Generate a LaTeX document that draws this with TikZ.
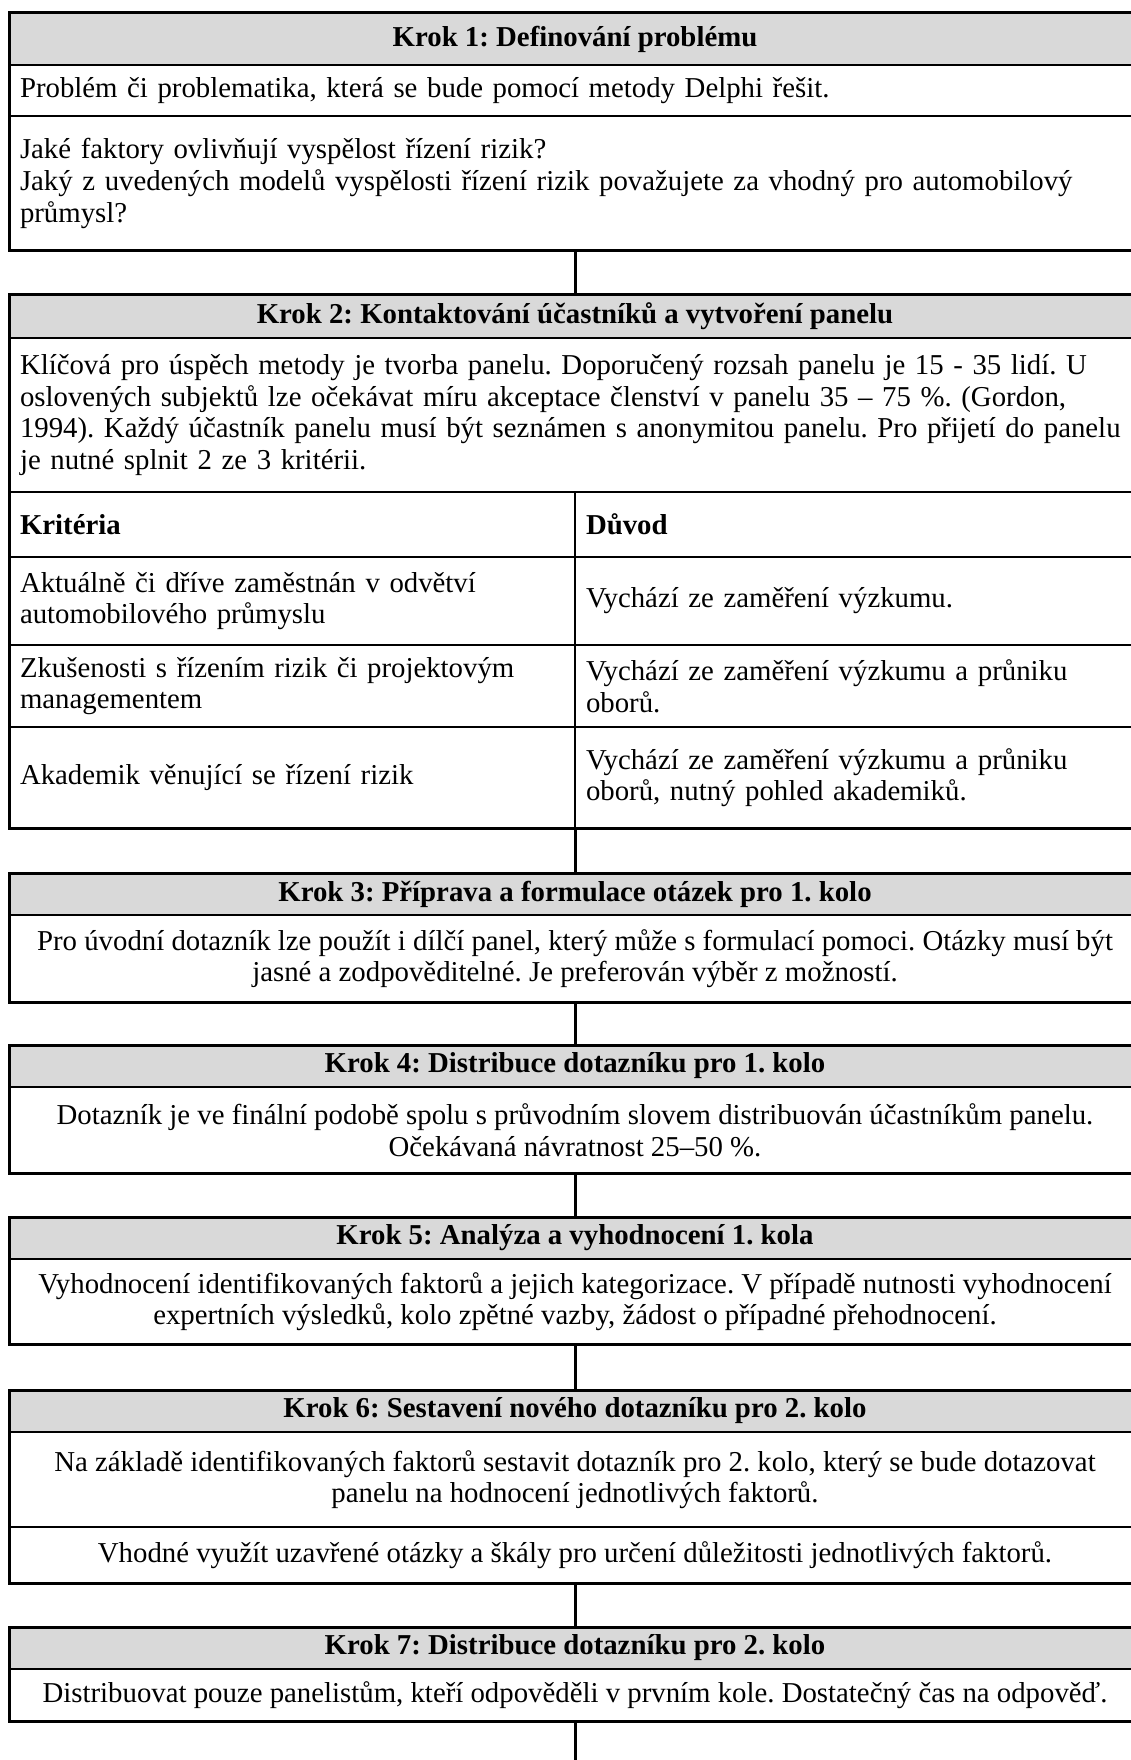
\documentclass[tikz,border=0pt]{standalone}
\usepackage{fontspec}
\setmainfont{Liberation Serif}
\definecolor{hdrgray}{HTML}{D9D9D9}
\newcommand\bodyfont{\fontsize{28.8}{31.6}\selectfont\frenchspacing}
\tikzset{
  cellbase/.style={draw=black, line width=1.4pt, inner sep=0pt, outer sep=0pt, anchor=north west, font=\bodyfont},
  hdr/.style={cellbase, fill=hdrgray, minimum width=1132pt, align=center, font=\bodyfont\bfseries},
  leftcell/.style={cellbase, minimum width=1132pt, text width=1110pt, align=left},
  midcell/.style={cellbase, minimum width=1132pt, align=center},
  halfcell/.style={cellbase, minimum width=566pt, text width=544pt, align=left},
  frame/.style={draw=black, line width=3pt},
  link/.style={draw=black, line width=3pt},
}
\begin{document}
\begin{tikzpicture}[x=1pt,y=-1pt]
\useasboundingbox (0,0) rectangle (1131,1760);
\fill[white] (0,0) rectangle (1131,1760);
\clip (0,0) rectangle (1131,1760);

% Box 1
\node[hdr, minimum height=52pt] (h1) at (9,13) {Krok 1: Definování problému};
\node[leftcell, minimum height=51pt] (r11) at (9,65) {Problém či problematika, která se bude pomocí metody Delphi řešit.};
\node[leftcell, minimum height=135pt] (r12) at (9,116) {Jaké faktory ovlivňují vyspělost řízení rizik?\\ Jaký z uvedených modelů vyspělosti řízení rizik považujete za vhodný pro automobilový\\ průmysl?};
\draw[frame] (h1.north west) rectangle (r12.south east);

% Box 2
\node[hdr, minimum height=43pt] (h2) at (9,295) {Krok 2: Kontaktování účastníků a vytvoření panelu};
\node[leftcell, minimum height=154pt] (r21) at (9,338) {Klíčová pro úspěch metody je tvorba panelu. Doporučený rozsah panelu je 15 - 35 lidí. U\\ oslovených subjektů lze očekávat míru akceptace členství v panelu 35 – 75 \%. (Gordon,\\ 1994). Každý účastník panelu musí být seznámen s anonymitou panelu. Pro přijetí do panelu\\ je nutné splnit 2 ze 3 kritérii.};
\node[halfcell, minimum height=65pt, font=\bodyfont\bfseries] (t0l) at (9,492) {Kritéria};
\node[halfcell, minimum height=65pt, font=\bodyfont\bfseries] (t0r) at (575,492) {Důvod};
\node[halfcell, minimum height=88pt] (t1l) at (9,557) {Aktuálně či dříve zaměstnán v odvětví\\ automobilového průmyslu};
\node[halfcell, minimum height=88pt] (t1r) at (575,557) {Vychází ze zaměření výzkumu.};
\node[halfcell, minimum height=82pt] (t2l) at (9,645) {Zkušenosti s řízením rizik či projektovým\\ managementem};
\node[halfcell, minimum height=82pt] (t2r) at (575,645) {Vychází ze zaměření výzkumu a průniku\\ oborů.};
\node[halfcell, minimum height=101pt] (t3l) at (9,727) {Akademik věnující se řízení rizik};
\node[halfcell, minimum height=101pt] (t3r) at (575,727) {Vychází ze zaměření výzkumu a průniku\\ oborů, nutný pohled akademiků.};
\draw[frame] (h2.north west) rectangle (t3r.south east);

% Box 3
\node[hdr, minimum height=42pt] (h3) at (9,873) {Krok 3: Příprava a formulace otázek pro 1. kolo};
\node[midcell, minimum height=87pt] (r31) at (9,915) {Pro úvodní dotazník lze použít i dílčí panel, který může s formulací pomoci. Otázky musí být\\ jasné a zodpověditelné. Je preferován výběr z možností.};
\draw[frame] (h3.north west) rectangle (r31.south east);

% Box 4
\node[hdr, minimum height=42pt] (h4) at (9,1045) {Krok 4: Distribuce dotazníku pro 1. kolo};
\node[midcell, minimum height=86pt] (r41) at (9,1087) {Dotazník je ve finální podobě spolu s průvodním slovem distribuován účastníkům panelu.\\ Očekávaná návratnost 25–50 \%.};
\draw[frame] (h4.north west) rectangle (r41.south east);

% Box 5
\node[hdr, minimum height=42pt] (h5) at (9,1217) {Krok 5: Analýza a vyhodnocení 1. kola};
\node[midcell, minimum height=85pt] (r51) at (9,1259) {Vyhodnocení identifikovaných faktorů a jejich kategorizace. V případě nutnosti vyhodnocení\\ expertních výsledků, kolo zpětné vazby, žádost o případné přehodnocení.};
\draw[frame] (h5.north west) rectangle (r51.south east);

% Box 6
\node[hdr, minimum height=42pt] (h6) at (9,1390) {Krok 6: Sestavení nového dotazníku pro 2. kolo};
\node[midcell, minimum height=95pt] (r61) at (9,1432) {Na základě identifikovaných faktorů sestavit dotazník pro 2. kolo, který se bude dotazovat\\ panelu na hodnocení jednotlivých faktorů.};
\node[midcell, minimum height=56pt] (r62) at (9,1527) {Vhodné využít uzavřené otázky a škály pro určení důležitosti jednotlivých faktorů.};
\draw[frame] (h6.north west) rectangle (r62.south east);

% Box 7
\node[hdr, minimum height=42pt] (h7) at (9,1627) {Krok 7: Distribuce dotazníku pro 2. kolo};
\node[midcell, minimum height=52pt] (r71) at (9,1669) {Distribuovat pouze panelistům, kteří odpověděli v prvním kole. Dostatečný čas na odpověď.};
\draw[frame] (h7.north west) rectangle (r71.south east);

% connectors
\coordinate (tail) at (575,1760);
\draw[link] (r12.south) -- (h2.north);
\draw[link] (t3l.south east) -- (h3.north);
\draw[link] (r31.south) -- (h4.north);
\draw[link] (r41.south) -- (h5.north);
\draw[link] (r51.south) -- (h6.north);
\draw[link] (r62.south) -- (h7.north);
\draw[link] (r71.south) -- (tail);
\end{tikzpicture}
\end{document}
